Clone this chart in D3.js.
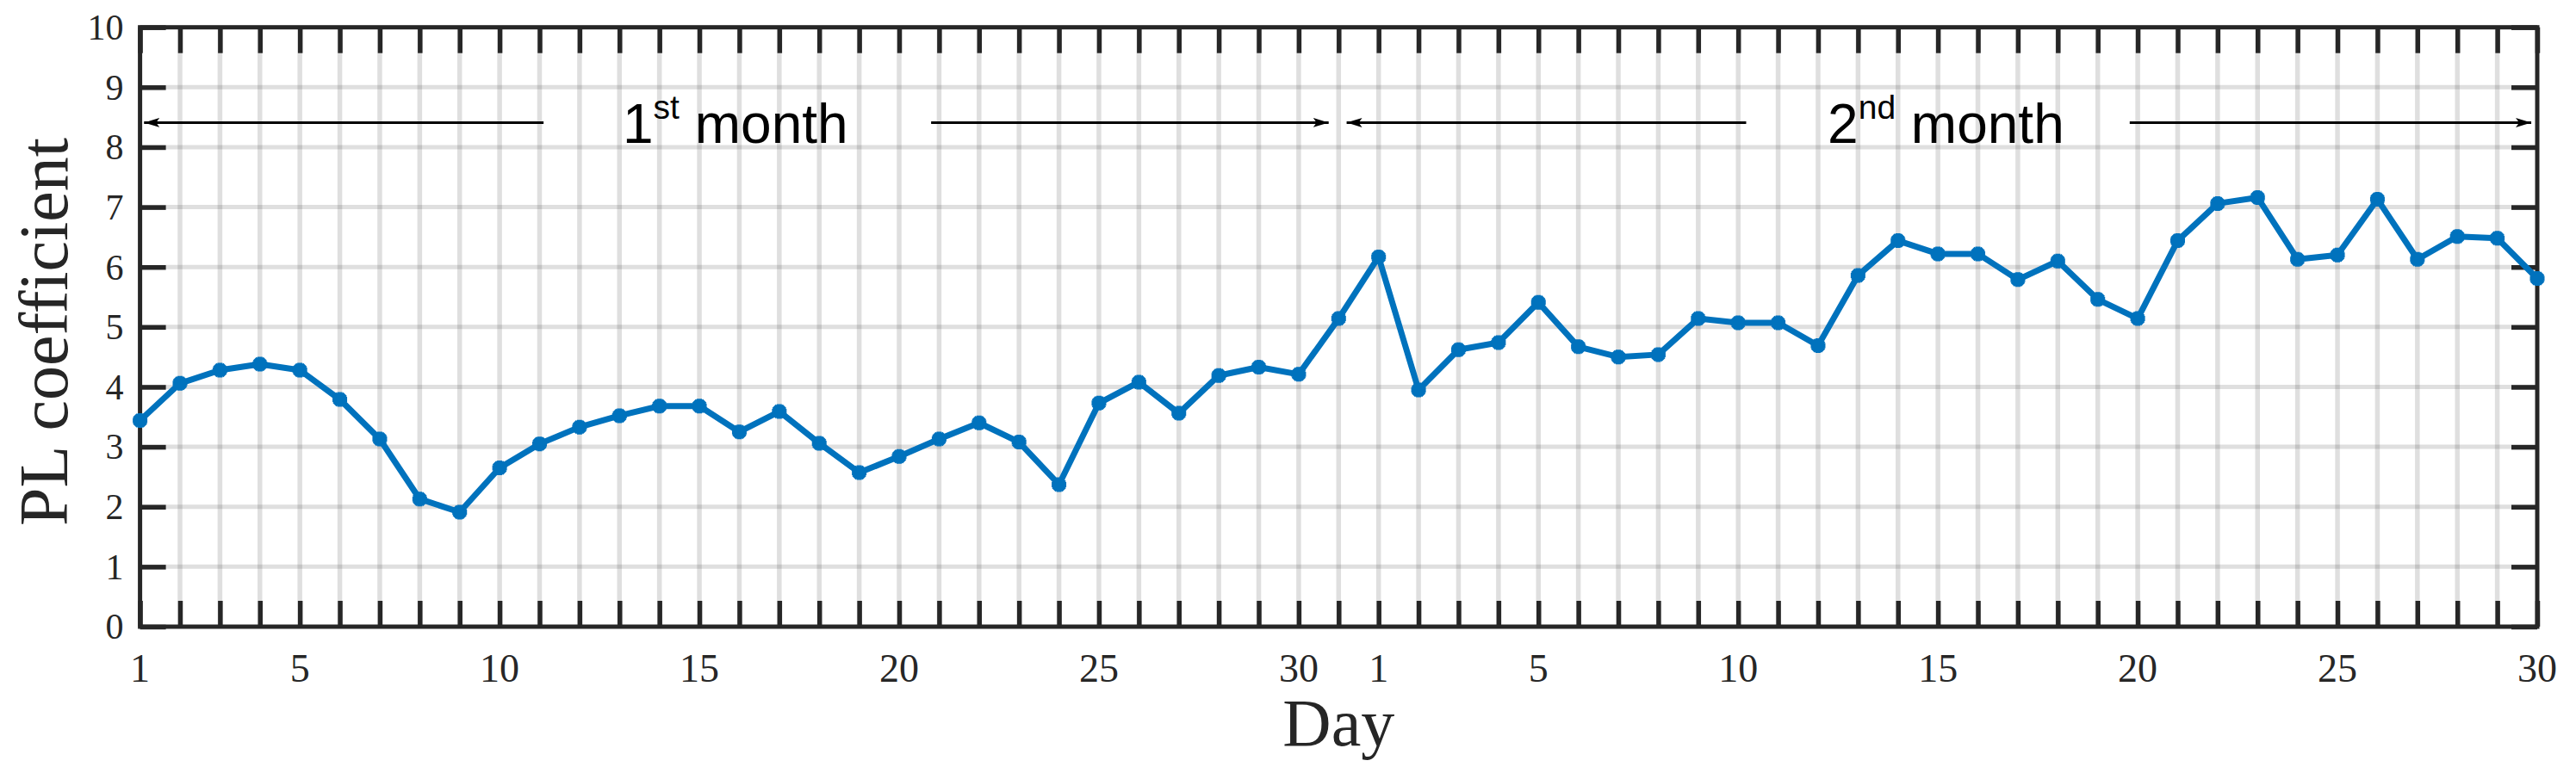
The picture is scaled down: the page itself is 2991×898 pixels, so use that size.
<!DOCTYPE html>
<html>
<head>
<meta charset="utf-8">
<script src="https://cdn.jsdelivr.net/npm/d3@7"></script>
<style>
  html, body { margin: 0; padding: 0; background: #fff; }
  svg { display: block; }
</style>
</head>
<body>
<svg id="chart"></svg>
<script>
// day labels for the two months (31 + 30 days)
var dayLabels = [
  1, 2, 3, 4, 5, 6, 7, 8, 9, 10, 11, 12, 13, 14, 15, 16, 17, 18, 19, 20,
  21, 22, 23, 24, 25, 26, 27, 28, 29, 30, 31,
  1, 2, 3, 4, 5, 6, 7, 8, 9, 10, 11, 12, 13, 14, 15, 16, 17, 18, 19, 20,
  21, 22, 23, 24, 25, 26, 27, 28, 29, 30
];
// PL coefficient per day
var plValues = [
  3.44, 4.06, 4.28, 4.38, 4.28, 3.79, 3.13, 2.13, 1.91, 2.65,
  3.05, 3.33, 3.52, 3.68, 3.68, 3.25, 3.59, 3.06, 2.57, 2.84,
  3.13, 3.40, 3.08, 2.37, 3.73, 4.08, 3.56, 4.19, 4.33, 4.21,
  5.14,
  6.17, 3.95, 4.62, 4.74, 5.41, 4.67, 4.50, 4.54, 5.14, 5.07,
  5.07, 4.69, 5.86, 6.44, 6.22, 6.22, 5.79, 6.10, 5.46, 5.14,
  6.44, 7.06, 7.16, 6.13, 6.20, 7.13, 6.13, 6.51, 6.48, 5.81
];
// which day labels get a tick label (1,5,10,...,30 in each month)
var labelledDays = [1, 5, 10, 15, 20, 25, 30];
var yTicks = [0, 1, 2, 3, 4, 5, 6, 7, 8, 9, 10];

// month annotations: [arrow tip, arrow tail] in day-index units, text centre
var monthNotes = [
  { main: "1", sup: "st", rest: " month", center: 14.9,
    arrows: [[0.1, 10.1], [29.75, 19.8]] },
  { main: "2", sup: "nd", rest: " month", center: 45.2,
    arrows: [[30.2, 40.2], [59.85, 49.8]] }
];
var noteY = 8.41, noteTextY = 8.07;

var W = 2991, H = 898,
  margin = { top: 31.7, right: 45, bottom: 170, left: 162.6 },
  axisColor = "#262626",
  lineColor = "#0072BD",
  tickLen = 30,
  serif = "'Liberation Serif', 'Times New Roman', serif",
  sans = "'Liberation Sans', Arial, sans-serif";

var svg = d3.select("#chart").attr("width", W).attr("height", H);

var x = d3.scaleLinear()
  .domain([0, dayLabels.length - 1])
  .range([margin.left, W - margin.right]);
var y = d3.scaleLinear()
  .domain([0, 10])
  .range([H - margin.bottom, margin.top]);

var idx = d3.range(dayLabels.length);

// grid
var grid = svg.append("g")
  .attr("stroke", axisColor)
  .attr("stroke-opacity", 0.15);
grid.selectAll(".vgrid")
  .data(idx.slice(1, -1))
  .enter().append("line")
  .attr("x1", x).attr("x2", x)
  .attr("y1", y(0)).attr("y2", y(10))
  .attr("stroke-width", 5.5);
grid.selectAll(".hgrid")
  .data(yTicks.slice(1, -1))
  .enter().append("line")
  .attr("x1", x(0)).attr("x2", x(60))
  .attr("y1", y).attr("y2", y)
  .attr("stroke-width", 5);

// axes with inward ticks on all sides
var xBottom = d3.axisBottom(x).tickValues(idx).tickSize(-tickLen).tickFormat("");
var xTop = d3.axisTop(x).tickValues(idx).tickSize(-tickLen).tickFormat("");
var yLeft = d3.axisLeft(y).tickValues(yTicks).tickSize(-tickLen).tickFormat("");
var yRight = d3.axisRight(y).tickValues(yTicks).tickSize(-tickLen).tickFormat("");

function styleAxis(g) {
  g.select(".domain").remove();
  g.selectAll(".tick line").attr("stroke", axisColor).attr("stroke-width", 5.5);
}
svg.append("g").attr("transform", "translate(0," + y(0) + ")").call(xBottom).call(styleAxis);
svg.append("g").attr("transform", "translate(0," + y(10) + ")").call(xTop).call(styleAxis);
svg.append("g").attr("transform", "translate(" + x(0) + ",0)").call(yLeft).call(styleAxis);
svg.append("g").attr("transform", "translate(" + x(60) + ",0)").call(yRight).call(styleAxis);

svg.append("rect")
  .attr("x", x(0)).attr("y", y(10))
  .attr("width", x(60) - x(0)).attr("height", y(0) - y(10))
  .attr("fill", "none")
  .attr("stroke", axisColor)
  .attr("stroke-width", 5);

// tick labels
svg.append("g").selectAll("text")
  .data(idx.filter(function(i) { return labelledDays.indexOf(dayLabels[i]) >= 0; }))
  .enter().append("text")
  .attr("x", x)
  .attr("y", y(0) + 64)
  .attr("text-anchor", "middle")
  .attr("font-family", serif)
  .attr("font-size", 46)
  .attr("fill", axisColor)
  .text(function(i) { return dayLabels[i]; });

svg.append("g").selectAll("text")
  .data(yTicks)
  .enter().append("text")
  .attr("x", x(0) - 19)
  .attr("y", y)
  .attr("dy", "0.34em")
  .attr("text-anchor", "end")
  .attr("font-family", serif)
  .attr("font-size", 42)
  .attr("fill", axisColor)
  .text(function(d) { return d; });

// axis titles
svg.append("text")
  .attr("x", (x(0) + x(60)) / 2)
  .attr("y", 866)
  .attr("text-anchor", "middle")
  .attr("font-family", serif)
  .attr("font-size", 78)
  .attr("fill", axisColor)
  .text("Day");

svg.append("text")
  .attr("transform", "translate(78,385.5) rotate(-90)")
  .attr("text-anchor", "middle")
  .attr("font-family", serif)
  .attr("font-size", 80)
  .attr("fill", axisColor)
  .text("PL coefficient");

// month annotations
var defs = svg.append("defs");
defs.append("marker")
  .attr("id", "arrowhead")
  .attr("viewBox", "0 -6 18 12")
  .attr("refX", 18).attr("refY", 0)
  .attr("markerWidth", 18).attr("markerHeight", 12)
  .attr("markerUnits", "userSpaceOnUse")
  .attr("orient", "auto")
  .append("path")
  .attr("d", "M0,-5.5L18,0L0,5.5L4,0Z")
  .attr("fill", "#000");

var notes = svg.append("g");
monthNotes.forEach(function(n) {
  n.arrows.forEach(function(a) {
    notes.append("line")
      .attr("x1", x(a[1])).attr("x2", x(a[0]))
      .attr("y1", y(noteY)).attr("y2", y(noteY))
      .attr("stroke", "#000")
      .attr("stroke-width", 3)
      .attr("marker-end", "url(#arrowhead)");
  });
  var t = notes.append("text")
    .attr("x", x(n.center))
    .attr("y", y(noteTextY))
    .attr("text-anchor", "middle")
    .attr("font-family", sans)
    .attr("font-size", 64)
    .attr("fill", "#000");
  t.append("tspan").text(n.main);
  t.append("tspan").attr("dy", -28).attr("font-size", 39).text(n.sup);
  t.append("tspan").attr("dy", 28).text(n.rest);
});

// data line and asterisk markers
var line = d3.line()
  .x(function(d, i) { return x(i); })
  .y(function(d) { return y(d); });

svg.append("path")
  .datum(plValues)
  .attr("d", line)
  .attr("fill", "none")
  .attr("stroke", lineColor)
  .attr("stroke-width", 7)
  .attr("stroke-linejoin", "round");

var r = 8.5, rd = r * 0.72;
var asterisk = "M" + (-r) + ",0L" + r + ",0M0," + (-r) + "L0," + r +
  "M" + (-rd) + "," + (-rd) + "L" + rd + "," + rd +
  "M" + (-rd) + "," + rd + "L" + rd + "," + (-rd);

svg.append("g").selectAll("path")
  .data(plValues)
  .enter().append("path")
  .attr("transform", function(d, i) { return "translate(" + x(i) + "," + y(d) + ")"; })
  .attr("d", asterisk)
  .attr("fill", "none")
  .attr("stroke", lineColor)
  .attr("stroke-width", 6);
</script>
</body>
</html>
